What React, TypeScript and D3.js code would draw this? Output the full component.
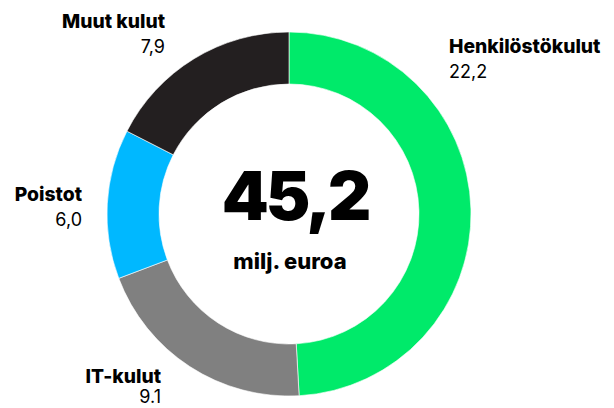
import React from "react";
import * as d3 from "d3";

const categories = ["Henkilöstökulut", "IT-kulut", "Poistot", "Muut kulut"];
const values = [22.2, 9.1, 6.0, 7.9];
const valueLabels = ["22,2", "9.1", "6,0", "7,9"];
const colors = ["#00EA6A", "#808080", "#00B8FF", "#231F20"];
const totalLabel = "45,2";
const unitLabel = "milj. euroa";

const W = 614;
const H = 408;
const cx = 289;
const cy = 214;
const outerR = 182;
const innerR = 130;

// label anchor settings per category (layout, not data)
const labelPos = [
  { x: 449, y: 53, anchor: "start" },
  { x: 161, y: 383, anchor: "end" },
  { x: 82, y: 201, anchor: "end" },
  { x: 165, y: 28, anchor: "end" },
];

export default function App() {
  const pie = d3.pie<number>().sort(null).value((d) => d);
  const arcs = pie(values);
  const arc = d3.arc<d3.PieArcDatum<number>>().innerRadius(innerR).outerRadius(outerR);
  const font = "Inter, 'Noto Sans', sans-serif";
  return (
    <svg width={W} height={H} style={{ position: "absolute", left: 0, top: 0 }}>
      <rect width={W} height={H} fill="#fff" />
      <g transform={`translate(${cx},${cy})`}>
        {arcs.map((a, i) => (
          <path key={i} d={arc(a) || ""} fill={colors[i]} stroke="#fff" strokeWidth={0.6} />
        ))}
      </g>
      <text x={295} y={220} textAnchor="middle" fontFamily={font} fontWeight={900} fontSize={67} fill="#000" letterSpacing={-3}>
        {totalLabel}
      </text>
      <text x={290} y={269} textAnchor="middle" fontFamily={font} fontWeight={800} fontSize={22} fill="#000">
        {unitLabel}
      </text>
      {categories.map((c, i) => (
        <g key={c}>
          <text x={labelPos[i].x} y={labelPos[i].y} textAnchor={labelPos[i].anchor as any} fontFamily={font} fontWeight={800} fontSize={19.3} fill="#000">
            {c}
          </text>
          <text x={labelPos[i].x} y={Math.min(labelPos[i].y + 24.5, 403)} textAnchor={labelPos[i].anchor as any} fontFamily={font} fontWeight={400} fontSize={18} fill="#000">
            {valueLabels[i]}
          </text>
        </g>
      ))}
    </svg>
  );
}
